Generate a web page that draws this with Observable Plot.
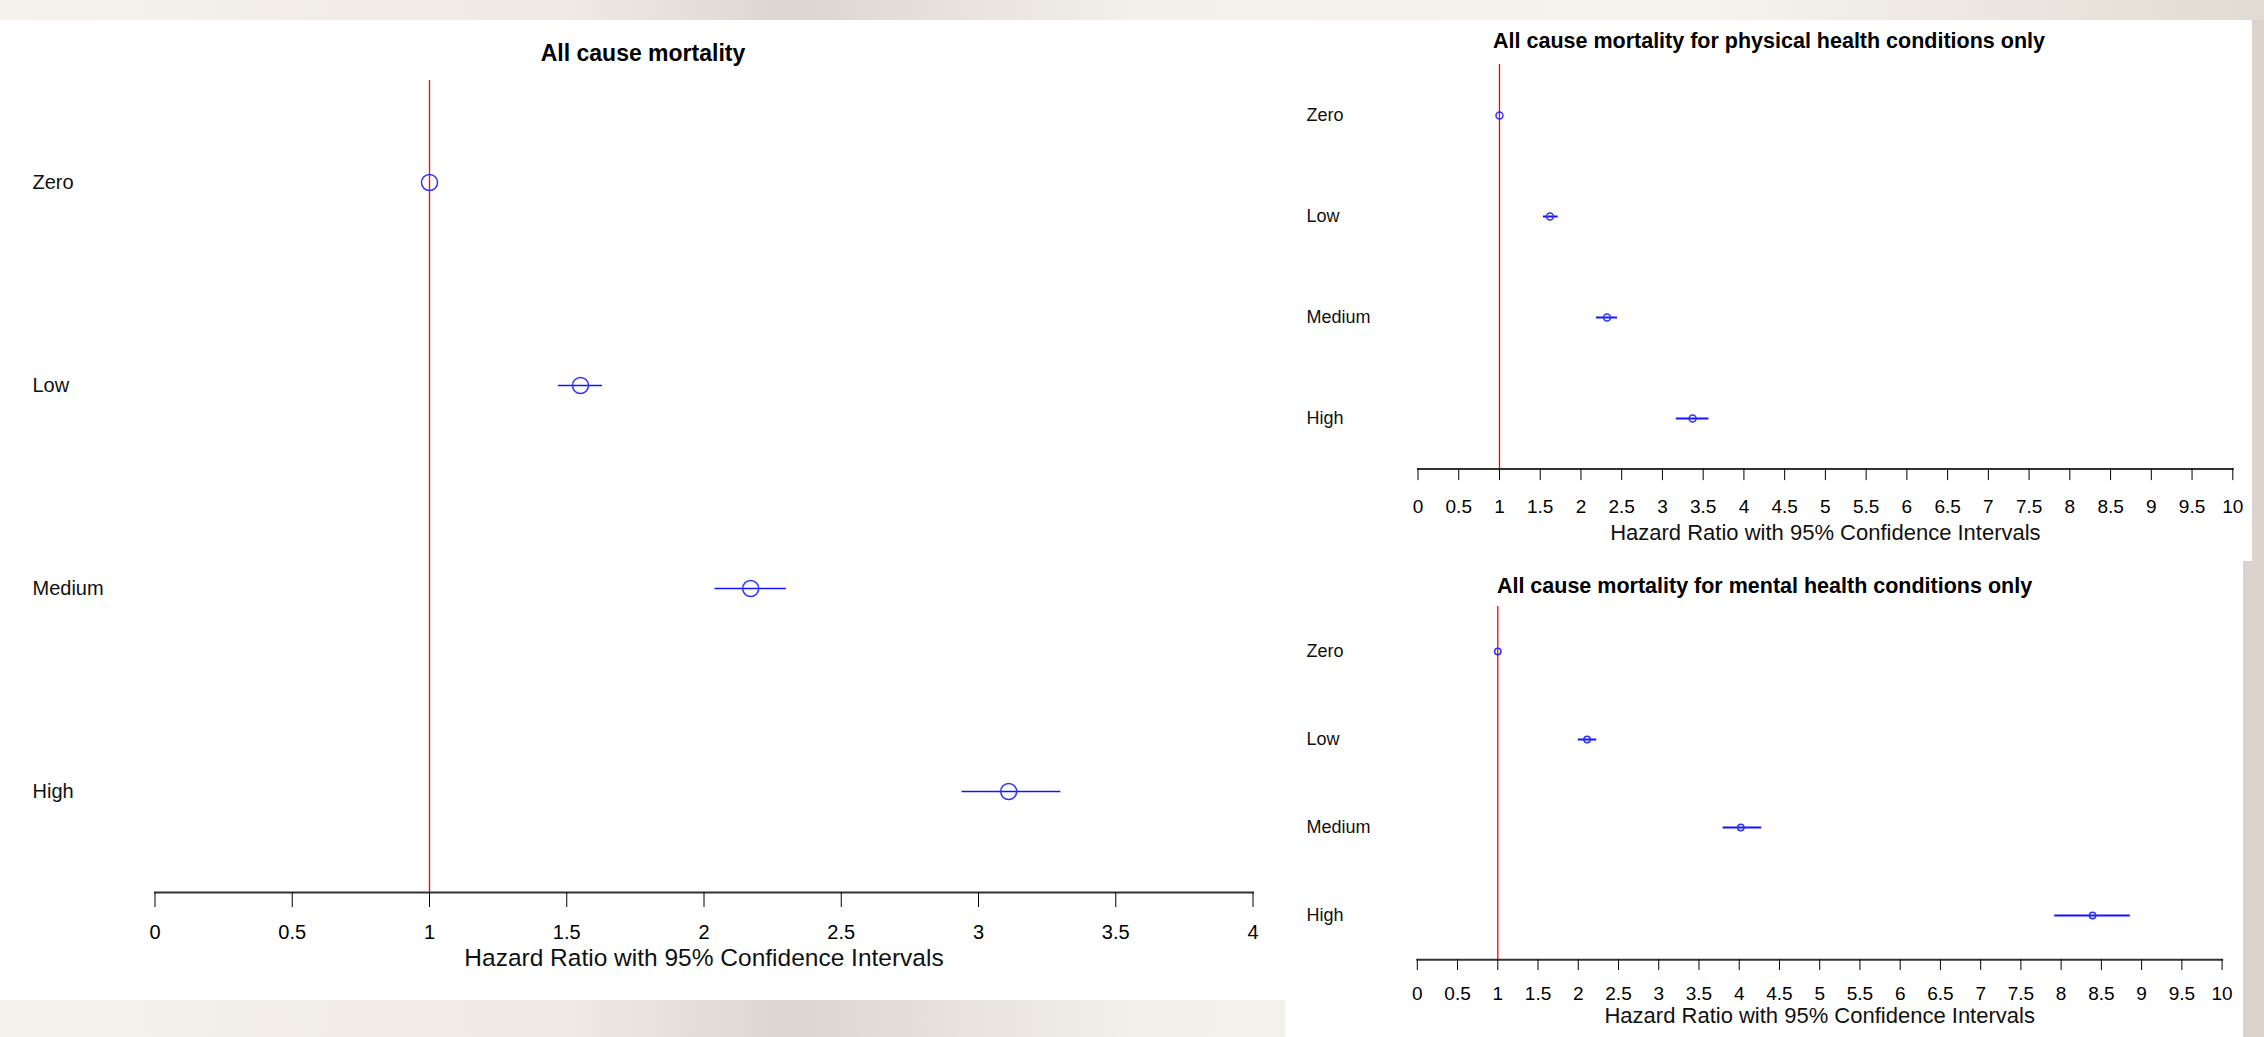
<!DOCTYPE html>
<html><head><meta charset="utf-8">
<script src="https://cdn.jsdelivr.net/npm/d3@7"></script>
<script src="https://cdn.jsdelivr.net/npm/@observablehq/plot@0.6"></script>
<style>
html,body{margin:0;padding:0;}
body{width:2264px;height:1037px;position:relative;overflow:hidden;
  background:linear-gradient(90deg,#f5f2ec 0%,#efeae3 25%,#dcd6d0 35%,#f3efe9 50%,#f6f3ee 75%,#e2dbd3 100%);
  font-family:"Liberation Sans",Arial,sans-serif;}
.panel{position:absolute;background:#fff;}
.panel svg{display:block;overflow:visible;}
#rightstrip{position:absolute;left:2243px;top:20px;width:21px;height:1017px;background:#dcd4cc;}
</style></head><body>
<div id="rightstrip"></div>
<div id="left" class="panel" style="left:0;top:20px;width:1285px;height:980px"></div>
<div id="tr" class="panel" style="left:1285px;top:20px;width:967px;height:541px"></div>
<div id="br" class="panel" style="left:1285px;top:561px;width:958px;height:476px"></div>
<script>
// ---- data ----
const categories = ["Zero", "Low", "Medium", "High"];

const allHR    = [1, 1.55, 2.17, 3.11];
const allLower = [1, 1.47, 2.04, 2.94];
const allUpper = [1, 1.63, 2.30, 3.30];

const physHR    = [1, 1.62, 2.32, 3.37];
const physLower = [1, 1.54, 2.19, 3.17];
const physUpper = [1, 1.72, 2.45, 3.57];

const mentHR    = [1, 2.11, 4.02, 8.39];
const mentLower = [1, 2.00, 3.80, 7.92];
const mentUpper = [1, 2.23, 4.28, 8.86];

const ticksLeft  = [0, 0.5, 1, 1.5, 2, 2.5, 3, 3.5, 4];
const ticksRight = [0, 0.5, 1, 1.5, 2, 2.5, 3, 3.5, 4, 4.5, 5, 5.5, 6, 6.5, 7, 7.5, 8, 8.5, 9, 9.5, 10];

const titleAll  = "All cause mortality";
const titlePhys = "All cause mortality for physical health conditions only";
const titleMent = "All cause mortality for mental health conditions only";
const xLabel = "Hazard Ratio with 95% Confidence Intervals";
const referenceHR = [1];

// ---- chart builder ----
function forest(c) {
  const rows = categories.map((cat, i) => ({cat, hr: c.hr[i], lo: c.lo[i], hi: c.hi[i]}));
  const plotCenter = c.marginLeft + (c.width - c.marginLeft - c.marginRight) / 2;
  return Plot.plot({
    width: c.width, height: c.height,
    marginLeft: c.marginLeft, marginRight: c.marginRight,
    marginTop: c.marginTop, marginBottom: c.marginBottom,
    style: {background: "white", fontFamily: "'Liberation Sans', Arial, sans-serif", color: "black", overflow: "visible"},
    x: {domain: [c.ticks[0], c.ticks[c.ticks.length - 1]]},
    y: {type: "point", domain: categories, padding: 0.5, axis: null},
    marks: [
      Plot.ruleX(referenceHR, {stroke: "#ff0000", strokeWidth: 1.3}),
      Plot.frame({anchor: "bottom", stroke: "#333", strokeWidth: 2}),
      Plot.axisX({ticks: c.ticks, tickFormat: d => String(d), tickSize: c.tickSize, tickPadding: c.tickPadding,
                  fontSize: c.tickFont, label: null, stroke: "#000"}),
      Plot.ruleY(rows, {y: "cat", x1: "lo", x2: "hi", stroke: "#1414ff", strokeWidth: c.ciWidth}),
      Plot.dot(rows, {x: "hr", y: "cat", r: c.r, stroke: "#3030ff", strokeWidth: 1.5, fill: "none"}),
      Plot.text(categories, {y: d => d, text: d => d, frameAnchor: "left", dx: c.labelDx, textAnchor: "start",
                  fontSize: c.rowFont, fill: "#111"}),
      Plot.text([c.title], {text: d => d, frameAnchor: "top", dx: c.width / 2 - plotCenter, dy: c.titleDy,
                  fontSize: c.titleFont, fontWeight: "bold", fill: "#000", lineAnchor: "middle"}),
      Plot.text([xLabel], {text: d => d, frameAnchor: "bottom", dy: c.xLabelDy,
                  fontSize: c.xLabelFont, fill: "#111", lineAnchor: "middle"})
    ]
  });
}

document.getElementById("left").append(forest({
  hr: allHR, lo: allLower, hi: allUpper, ticks: ticksLeft, title: titleAll,
  width: 1285, height: 980, marginLeft: 154.5, marginRight: 32.5, marginTop: 60, marginBottom: 108,
  tickSize: 15, tickPadding: 17, tickFont: 20, r: 8, ciWidth: 1.5, labelDx: -122.5, rowFont: 20,
  titleDy: -26.5, titleFont: 23, xLabelDy: 66, xLabelFont: 24.5
}));

document.getElementById("tr").append(forest({
  hr: physHR, lo: physLower, hi: physUpper, ticks: ticksRight, title: titlePhys,
  width: 967, height: 541, marginLeft: 132.5, marginRight: 19.7, marginTop: 44, marginBottom: 92.4,
  tickSize: 11.5, tickPadding: 19, tickFont: 19, r: 3.5, ciWidth: 2, labelDx: -111.5, rowFont: 18,
  titleDy: -23, titleFont: 21.5, xLabelDy: 63.4, xLabelFont: 22
}));

document.getElementById("br").append(forest({
  hr: mentHR, lo: mentLower, hi: mentUpper, ticks: ticksRight, title: titleMent,
  width: 958, height: 476, marginLeft: 131.8, marginRight: 21.4, marginTop: 45, marginBottom: 77.7,
  tickSize: 10.7, tickPadding: 16, tickFont: 19, r: 3.2, ciWidth: 2, labelDx: -110.8, rowFont: 18,
  titleDy: -20.3, titleFont: 21.5, xLabelDy: 55.7, xLabelFont: 22
}));
</script>
</body></html>
